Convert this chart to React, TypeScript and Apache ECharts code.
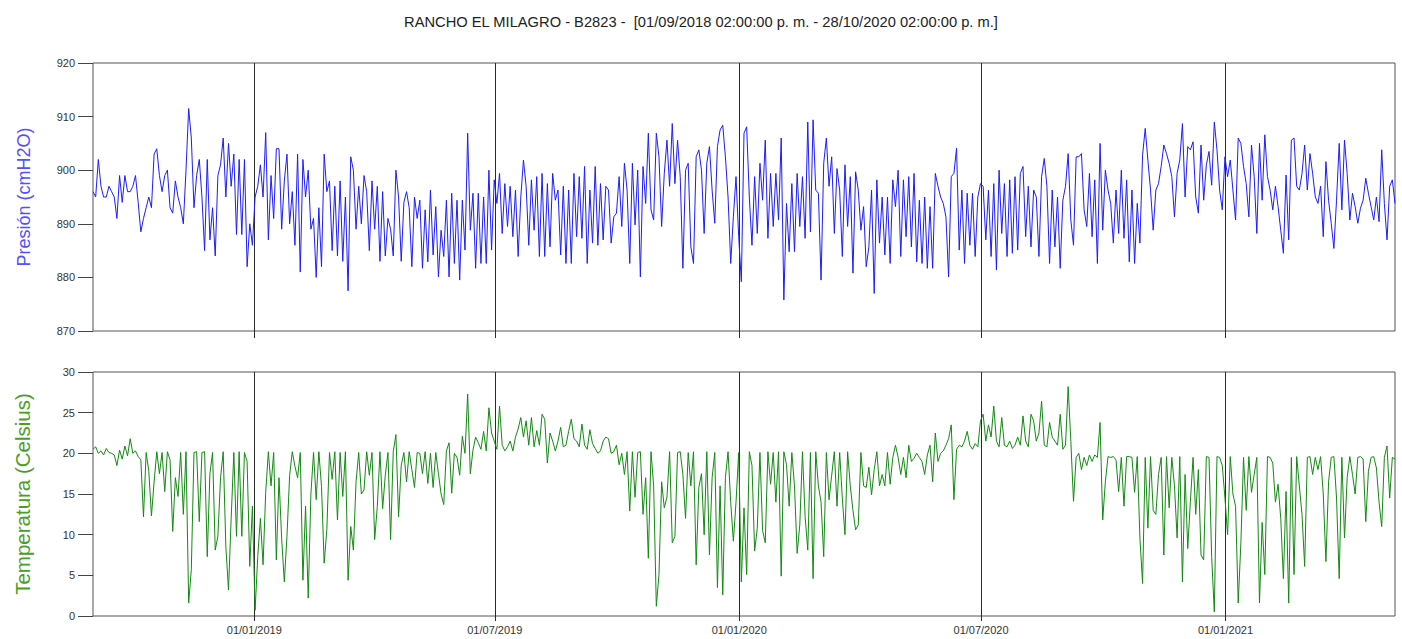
import React, { useEffect, useRef } from "react";
import * as echarts from "echarts";

const TITLE = "RANCHO EL MILAGRO - B2823 -  [01/09/2018 02:00:00 p. m. - 28/10/2020 02:00:00 p. m.]";
const PRESSURE_NAME = "Presión (cmH2O)";
const TEMPERATURE_NAME = "Temperatura (Celsius)";

const START_DATE = "2018-09-01T14:00:00Z";
const STEP_DAYS = 2;
const SPAN_DAYS = 980;
const TICK_DATES = ["2019-01-01T00:00:00Z", "2019-07-01T00:00:00Z", "2020-01-01T00:00:00Z", "2020-07-01T00:00:00Z", "2021-01-01T00:00:00Z"];

const PRESSURE_MIN = 870;
const PRESSURE_MAX = 920;
const PRESSURE_STEP = 10;
const TEMP_MIN = 0;
const TEMP_MAX = 30;
const TEMP_STEP = 5;

// pressure (cmH2O), one reading every STEP_DAYS from START_DATE
const pressure = [
  896, 895, 902, 897, 895, 895, 897, 896, 895, 891,
  899, 894, 899, 896, 896, 897, 899, 894, 888.5, 891,
  893, 895, 893, 903, 904, 899, 896, 899, 900, 893,
  892, 898, 895, 893, 890, 900, 911.5, 906, 893, 899,
  902, 895, 885, 902, 887, 893, 884, 899, 901, 906,
  895, 905, 897, 903, 888, 902, 888, 902, 882, 890,
  886, 895, 897, 901, 895, 907, 887, 899, 891, 904,
  904, 889, 898, 903, 890, 896, 886, 903, 881, 902,
  895, 900, 889, 891, 880, 893, 882, 903, 896, 898,
  885, 897, 884, 898, 883, 895, 877.5, 902.5, 900, 889,
  897, 890, 899, 896, 885, 898, 889, 897, 883, 896,
  884, 891, 889, 884, 900, 895, 883, 894, 896, 893,
  882, 895, 891, 894.4, 881.7, 892.6, 882.9, 896.3, 884.2, 893.2,
  880.1, 888.8, 883.9, 894.4, 880.1, 895.7, 882.6, 894.4, 879.5, 894.4,
  885.1, 906.9, 888.8, 895.7, 881.7, 895.7, 882.6, 895, 882.6, 900,
  885.1, 898.2, 893.8, 899.4, 888.2, 897.5, 889.5, 897, 887.6, 896.3,
  883.9, 895, 901.9, 897, 886, 898.2, 888.8, 898.8, 883.9, 899.4,
  883.9, 897.5, 885.7, 899.4, 894.4, 896.3, 884.2, 897, 882.6, 896.3,
  882.6, 899.4, 887.6, 898.8, 887.3, 900.7, 882.6, 896.3, 886.4, 900.7,
  886, 897.5, 887, 897, 896.3, 886.4, 891.3, 892, 898.8, 889.5,
  901.3, 896.3, 882.6, 901.3, 889.8, 900, 880.1, 900.7, 893.8, 906.9,
  892.6, 890.7, 906.9, 902.5, 889.5, 899.4, 905.6, 897, 908.7, 897.5,
  905.6, 898.8, 881.7, 900, 901.3, 885.7, 882.6, 902.5, 903.8, 900,
  888.2, 901.3, 904.4, 896.3, 890.1, 904.4, 907.5, 908.4, 902.5, 895,
  882.6, 891.3, 898.8, 887.6, 879.2, 906.9, 908.1, 895, 886, 898.8,
  888.2, 901.3, 894.4, 905.6, 887.3, 899.4, 889.5, 899.4, 890.7, 906,
  875.8, 893.8, 884.8, 897.5, 884.8, 899.4, 889.5, 898.8, 887.3, 909,
  888.5, 909.4, 896.3, 895.7, 879.5, 901.3, 906, 897, 902.5, 888.2,
  900.3, 896.3, 883.9, 901, 889.5, 898.8, 880.8, 899.7, 896.3, 888.8,
  893.2, 882, 885.7, 896.3, 877, 898.2, 886.4, 895, 884.2, 895,
  882.6, 898.2, 893.2, 900, 883.9, 898.2, 887.6, 898.8, 885.7, 899.4,
  882.9, 894.4, 882.6, 895, 881.7, 893.2, 881.7, 899.4, 897, 895,
  893.8, 891.3, 880.1, 898.8, 899.4, 904.1, 885.1, 896.3, 882.6, 895.7,
  886, 895.7, 883.9, 895, 897.5, 897, 887, 896.3, 883.9, 897.5,
  881.4, 900, 888.2, 897.5, 883.9, 898.2, 884.5, 898.8, 885.1, 899.4,
  900.7, 887.6, 897, 885.7, 896.3, 895, 883.9, 898.8, 902.2, 897,
  882.6, 896.3, 885.7, 895, 881.7, 894.4, 897, 903.1, 890.7, 886,
  902.5, 902.5, 903.1, 892.6, 889.5, 899.4, 887.6, 898.2, 882.6, 905,
  888.8, 900, 896.3, 893.8, 886.4, 896.3, 888.2, 900, 887.3, 898.2,
  882.9, 896.3, 882.6, 893.8, 886.4, 902.8, 907.8, 901.9, 896.3, 888.8,
  896.3, 897.5, 900.7, 904.7, 903.1, 901.3, 898.8, 891.3, 899.4, 901.9,
  908.7, 895, 904.4, 903.8, 905.3, 895, 892, 904.7, 894.4, 901,
  903.5, 897.2, 909, 903.8, 896.3, 892.6, 902.5, 898.8, 901.9, 896.3,
  890.7, 906, 905, 900.7, 897.5, 891.3, 904.7, 898.8, 888.2, 905,
  894.4, 906.6, 898.8, 896.3, 892.6, 897, 893.2, 888.8, 884.5, 899.1,
  887, 905.6, 906, 897, 896.3, 899.4, 904.7, 896.3, 903.1, 899.4,
  895, 893.8, 897, 887.6, 901.6, 894.4, 890.1, 885.4, 894.4, 905,
  892.6, 905.6, 899.4, 890.7, 895.7, 893.2, 890.1, 892.9, 894.4, 898.5,
  895.7, 893.2, 890.7, 895, 890.4, 903.8, 893.8, 887, 897, 898.2,
  893.8,
];

// temperature (Celsius), one reading every STEP_DAYS from START_DATE
const temperature = [
  20.5, 20.8, 20.0, 20.3, 19.8, 20.6, 20.1, 20.0, 19.8, 18.5,
  20.4, 19.3, 20.9, 19.7, 21.8, 20.0, 20.3, 19.6, 19.2, 12.2,
  20.1, 17.8, 12.3, 16.5, 20.2, 17.5, 20.1, 15.3, 20.2, 19.2,
  10.4, 17.0, 14.7, 20.1, 12.5, 20.2, 1.6, 5.7, 20.1, 20.2,
  11.6, 20.1, 20.2, 7.3, 17.5, 20.1, 8.1, 9.8, 17.0, 20.2,
  8.5, 3.2, 12.0, 20.1, 9.8, 20.2, 9.8, 20.1, 19.0, 6.1,
  13.5, 0.7, 7.3, 12.0, 6.3, 15.2, 20.2, 16.0, 20.1, 6.9,
  17.0, 9.5, 4.2, 9.8, 17.3, 20.2, 18.4, 17.0, 20.1, 4.4,
  13.5, 2.2, 15.0, 20.1, 14.3, 20.2, 15.9, 6.5, 10.6, 20.1,
  16.8, 20.2, 11.8, 20.1, 14.7, 20.2, 4.4, 11.0, 8.1, 16.5,
  20.1, 15.0, 15.5, 20.2, 17.3, 20.1, 9.4, 13.5, 20.2, 13.2,
  17.3, 20.1, 9.4, 20.2, 22.3, 12.2, 18.5, 20.1, 16.5, 20.2,
  18.0, 15.8, 20.1, 20.0, 17.5, 20.2, 16.3, 20.0, 15.8, 20.1,
  17.5, 15.0, 13.7, 20.3, 21.3, 15.1, 20.0, 19.5, 17.3, 22.1,
  20.0, 27.3, 17.5, 20.4, 22.0, 21.3, 20.5, 22.7, 20.3, 25.6,
  22.5, 21.5, 20.5, 25.8, 21.0, 20.3, 20.8, 21.5, 20.3, 22.0,
  23.0, 24.4, 22.0, 24.0, 21.0, 24.4, 20.8, 22.8, 21.0, 24.8,
  24.2, 18.8, 22.5, 21.5, 20.3, 21.5, 23.2, 20.8, 21.0, 22.7,
  24.2, 21.8, 21.5, 20.8, 23.6, 21.0, 20.5, 22.9, 21.2, 20.6,
  20.0, 20.3, 21.5, 22.0, 21.8, 20.0, 20.2, 21.0, 18.6, 20.0,
  17.4, 20.2, 12.9, 20.2, 14.6, 20.1, 20.2, 12.5, 17.0, 7.1,
  20.2, 16.0, 1.2, 5.1, 16.5, 13.3, 14.6, 20.2, 9.0, 9.8,
  20.1, 20.2, 17.4, 12.0, 20.1, 16.0, 20.2, 6.3, 15.8, 17.5,
  10.0, 20.2, 7.5, 17.0, 20.1, 3.5, 16.0, 2.6, 17.0, 20.2,
  14.0, 9.2, 14.0, 20.1, 4.2, 13.3, 5.1, 20.2, 18.5, 8.0,
  10.8, 20.1, 10.5, 9.0, 20.2, 16.2, 20.1, 14.0, 20.2, 4.9,
  20.2, 18.6, 13.5, 20.1, 16.0, 7.7, 11.2, 20.2, 12.2, 8.1,
  20.1, 4.6, 20.2, 16.0, 14.0, 7.3, 20.1, 14.3, 17.3, 20.2,
  13.5, 20.1, 14.5, 10.0, 20.2, 16.0, 13.0, 10.6, 11.2, 20.1,
  16.0, 15.8, 18.3, 14.9, 18.0, 20.2, 16.0, 17.4, 16.0, 20.1,
  16.2, 19.5, 21.0, 19.5, 17.4, 19.5, 17.0, 21.0, 19.0, 19.4,
  20.0, 19.5, 19.0, 17.4, 19.8, 21.0, 16.5, 22.5, 19.0, 20.0,
  20.3, 21.0, 21.8, 23.5, 14.3, 20.5, 21.0, 20.8, 21.5, 22.7,
  21.0, 20.5, 21.2, 20.8, 24.0, 24.8, 21.5, 23.5, 22.0, 25.8,
  21.5, 20.8, 24.4, 21.0, 20.8, 21.5, 20.6, 21.0, 22.0, 21.0,
  24.6, 21.5, 20.8, 24.8, 24.0, 21.5, 22.5, 26.4, 21.0, 20.8,
  23.8, 22.0, 21.5, 21.0, 24.8, 20.5, 21.0, 28.2, 21.5, 14.1,
  19.5, 20.0, 18.0, 19.5, 18.5, 19.8, 19.0, 19.8, 19.5, 23.8,
  11.8, 16.5, 19.6, 19.5, 19.6, 19.2, 15.3, 19.5, 13.5, 19.6,
  19.6, 19.5, 15.2, 19.6, 9.6, 4.0, 19.5, 10.8, 19.6, 13.0,
  12.5, 17.4, 19.5, 7.5, 19.6, 13.3, 19.5, 16.0, 9.6, 19.6,
  4.2, 17.4, 8.3, 14.1, 19.5, 12.5, 18.0, 7.5, 6.9, 19.6,
  19.5, 7.3, 0.5, 19.6, 19.5, 18.5, 14.5, 10.0, 19.6, 15.0,
  13.5, 1.6, 9.0, 19.5, 13.0, 19.6, 15.2, 17.4, 19.5, 1.6,
  11.5, 5.1, 19.6, 19.5, 18.8, 14.0, 16.2, 12.0, 4.6, 15.3,
  1.6, 19.5, 5.1, 19.6, 16.0, 12.5, 6.1, 19.5, 19.6, 17.4,
  19.5, 18.0, 19.6, 15.0, 6.7, 16.5, 19.5, 19.6, 14.5, 4.6,
  19.5, 9.6, 17.0, 19.6, 17.4, 15.0, 19.5, 19.6, 19.3, 11.6,
  17.8, 19.5, 19.6, 18.2, 14.0, 11.0, 19.5, 20.9, 14.5, 19.5,
  19.3,
];

const DAY_MS = 86400000;
const START = Date.parse(START_DATE);
const END = START + SPAN_DAYS * DAY_MS;
const TICKS = TICK_DATES.map((d) => Date.parse(d));

const pad = (n: number) => (n < 10 ? "0" + n : "" + n);
const fmtDate = (v: number) => {
  const d = new Date(v);
  return pad(d.getUTCDate()) + "/" + pad(d.getUTCMonth() + 1) + "/" + d.getUTCFullYear();
};

const toPairs = (vals: number[]) => vals.map((v, i) => [START + i * STEP_DAYS * DAY_MS, v]);

const FONT = "'Liberation Sans', Arial, sans-serif";
const AXIS_DARK = "#2a2a2a";

function buildOption() {
  const xCommon = (gridIndex: number, showLabels: boolean, tickLen: number) => ({
    type: "value",
    gridIndex,
    min: START,
    max: END,
    scale: true,
    axisLine: { show: false },
    axisTick: {
      show: true,
      customValues: TICKS,
      length: tickLen,
      lineStyle: { color: AXIS_DARK, width: 1 },
    },
    axisLabel: {
      show: showLabels,
      customValues: TICKS,
      formatter: (v: number) => fmtDate(v),
      fontSize: 11,
      color: "#333",
      margin: 8,
      fontFamily: FONT,
    },
    splitLine: { show: true, lineStyle: { color: AXIS_DARK, width: 1 } },
    minorTick: { show: false },
  });

  const yCommon = (gridIndex: number, min: number, max: number, interval: number, name: string, color: string, nameSize: number) => ({
    type: "value",
    gridIndex,
    min,
    max,
    interval,
    axisLine: { show: false },
    axisTick: { show: true, length: 15, lineStyle: { color: "#444", width: 1 } },
    axisLabel: { fontSize: 11, color: "#333", margin: 18, fontFamily: FONT },
    splitLine: { show: false },
    name,
    nameLocation: "middle",
    nameGap: 60,
    nameTextStyle: { fontSize: nameSize, color, fontFamily: FONT },
  });

  return {
    animation: false,
    backgroundColor: "#ffffff",
    textStyle: { fontFamily: FONT },
    title: {
      text: TITLE,
      left: "center",
      top: 9,
      textStyle: { fontSize: 14.7, fontWeight: "normal", color: "#222", fontFamily: FONT },
    },
    grid: [
      { left: 93, top: 63, width: 1302, height: 268, show: true, borderColor: "#555", borderWidth: 1, backgroundColor: "transparent" },
      { left: 93, top: 372, width: 1302, height: 244, show: true, borderColor: "#555", borderWidth: 1, backgroundColor: "transparent" },
    ],
    xAxis: [xCommon(0, false, 7), xCommon(1, true, 5)],
    yAxis: [
      yCommon(0, PRESSURE_MIN, PRESSURE_MAX, PRESSURE_STEP, PRESSURE_NAME, "#5050ff", 18),
      yCommon(1, TEMP_MIN, TEMP_MAX, TEMP_STEP, TEMPERATURE_NAME, "#4b9e25", 20.5),
    ],
    series: [
      {
        type: "line",
        xAxisIndex: 0,
        yAxisIndex: 0,
        data: toPairs(pressure),
        showSymbol: false,
        symbol: "none",
        lineStyle: { width: 1, color: "#1c1cff" },
        itemStyle: { color: "#1c1cff" },
        clip: true,
      },
      {
        type: "line",
        xAxisIndex: 1,
        yAxisIndex: 1,
        data: toPairs(temperature),
        showSymbol: false,
        symbol: "none",
        lineStyle: { width: 1, color: "#128a12" },
        itemStyle: { color: "#128a12" },
        clip: true,
      },
    ],
  };
}

export default function App() {
  const ref = useRef<HTMLDivElement>(null);
  useEffect(() => {
    if (!ref.current) return;
    const chart = echarts.init(ref.current, undefined, { renderer: "svg" });
    chart.setOption(buildOption() as any);
    return () => chart.dispose();
  }, []);
  return (
    <div
      ref={ref}
      style={{ position: "fixed", left: 0, top: 0, width: 1402, height: 639, background: "#fff" }}
    />
  );
}
